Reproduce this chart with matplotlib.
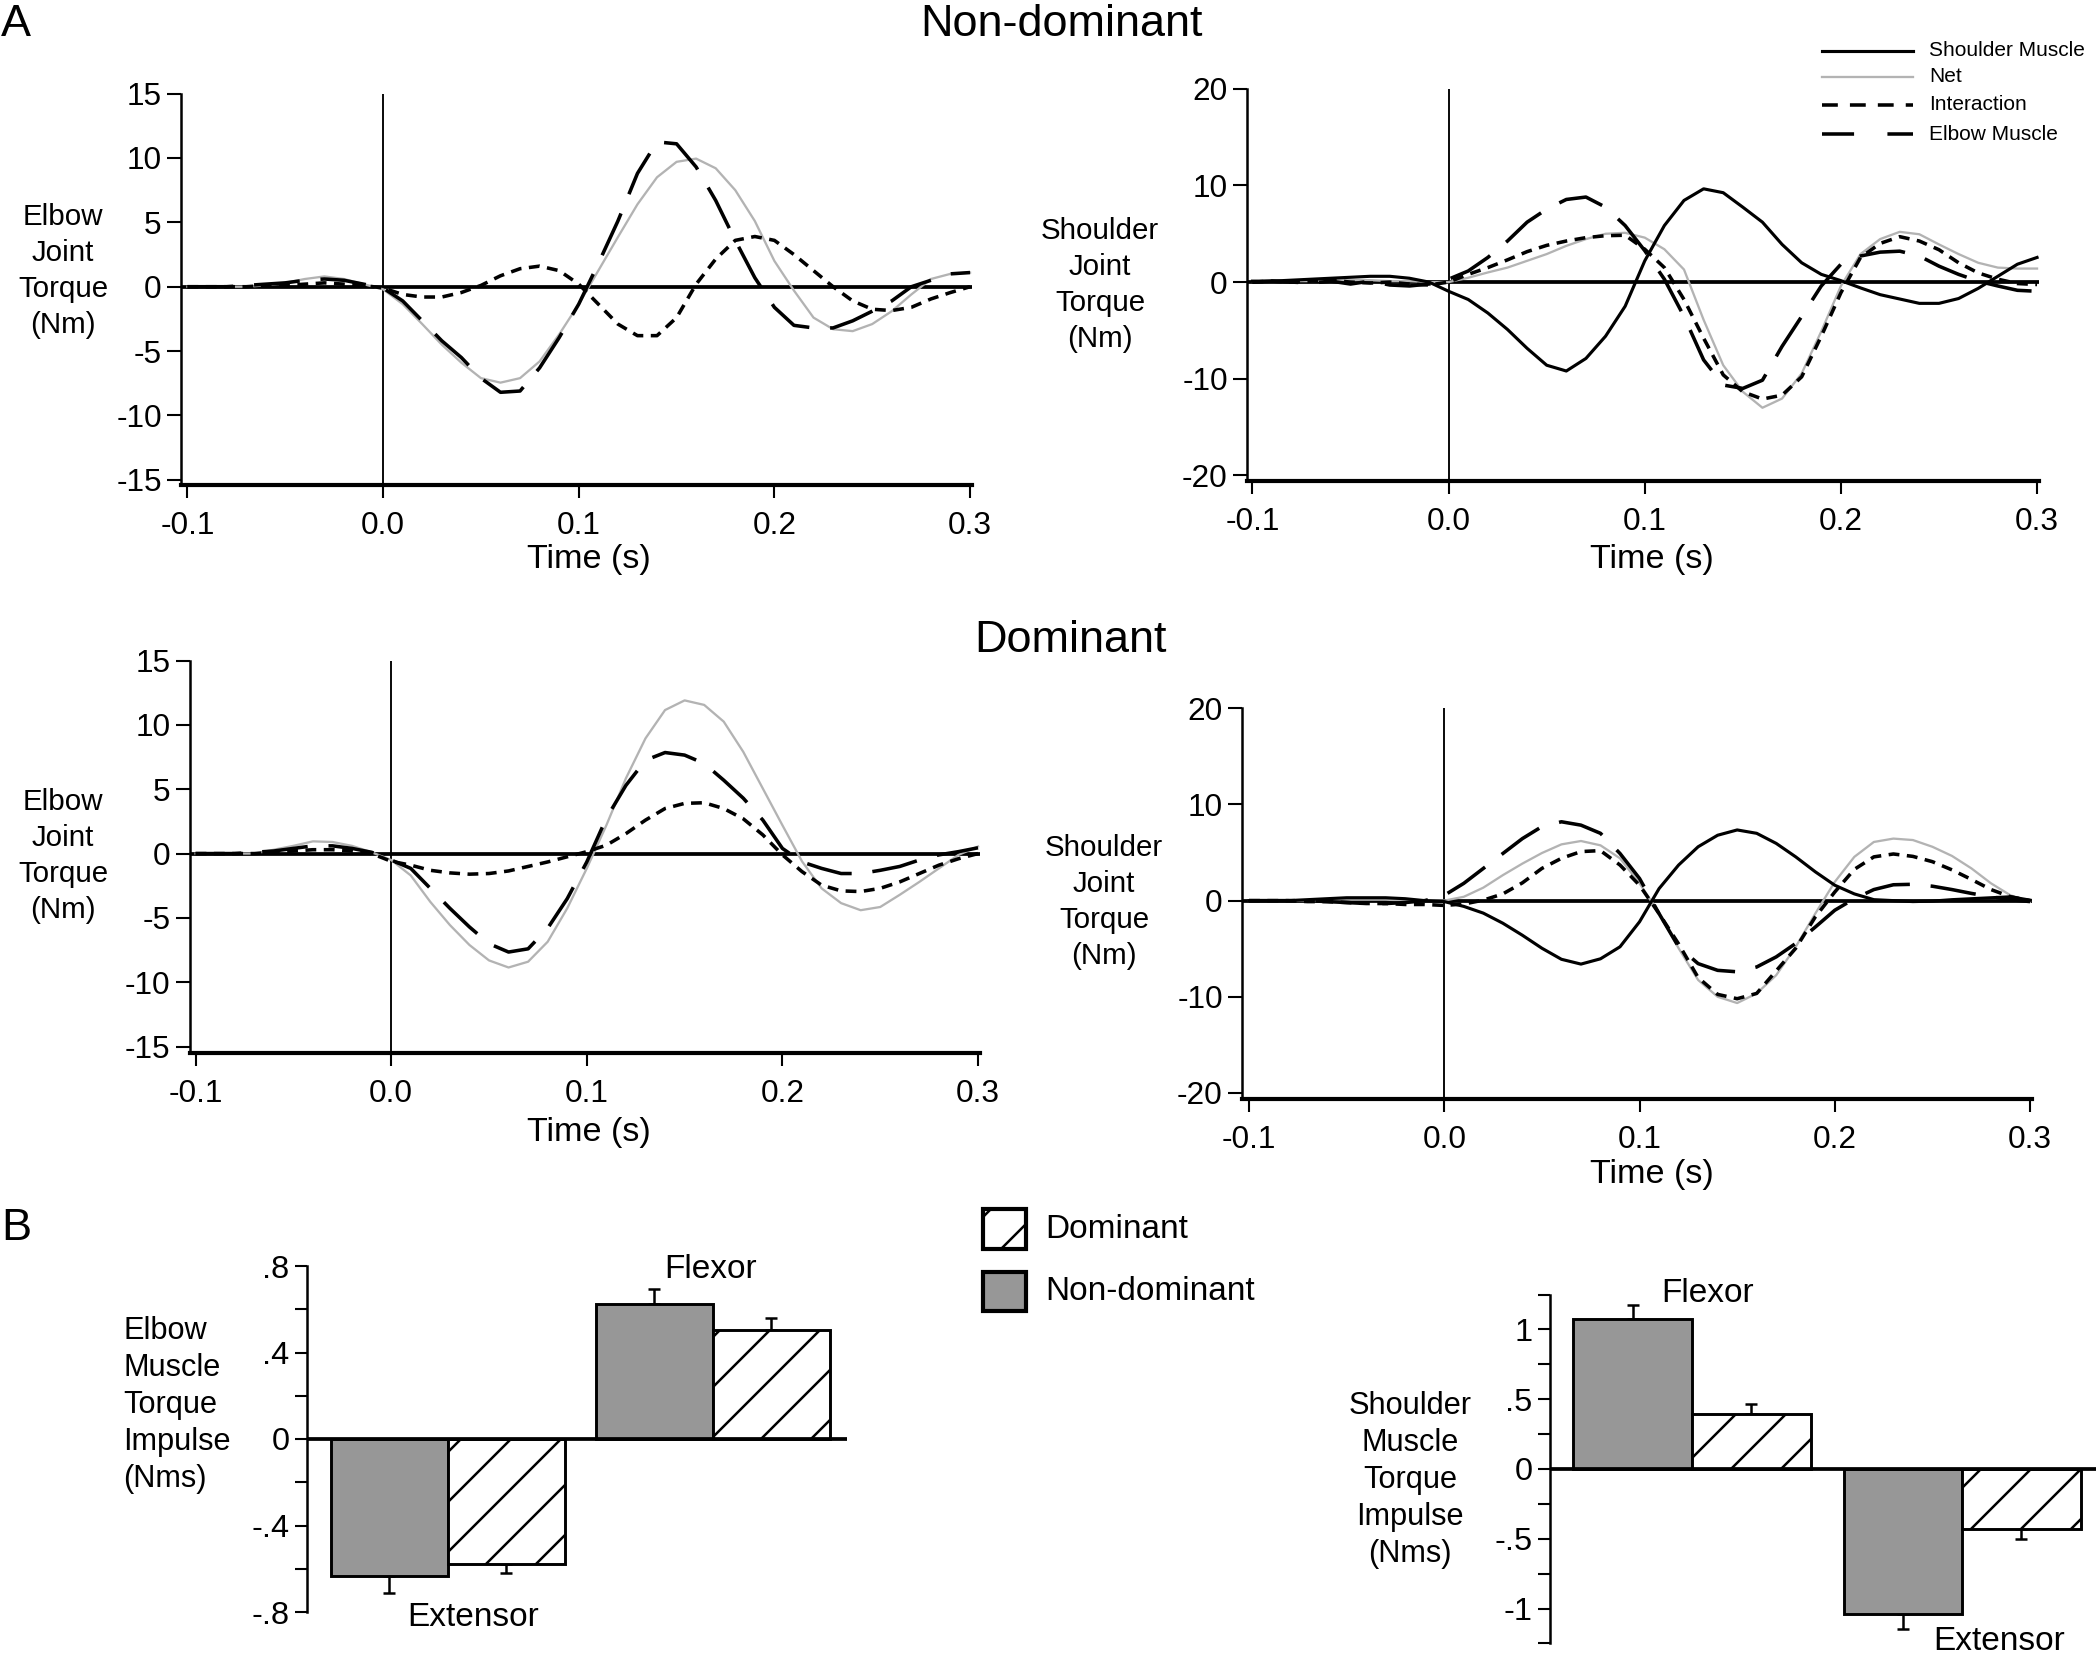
import matplotlib
matplotlib.use('Agg')
import matplotlib.pyplot as plt
import numpy as np
from matplotlib.lines import Line2D
from matplotlib.patches import Rectangle
from matplotlib.ticker import FormatStrFormatter

plt.rcParams['font.family'] = ['Liberation Sans', 'DejaVu Sans']
plt.rcParams['axes.unicode_minus'] = False
plt.rcParams['lines.scale_dashes'] = False
plt.rcParams['hatch.linewidth'] = 0.6

# ---- data: torques (Nm) sampled every 10 ms from -0.1 s to 0.3 s ----
t = np.round(np.arange(-0.1, 0.3001, 0.01), 2)

# Non-dominant, elbow joint
nd_elb_net = [0, 0, 0, 0, 0.1, 0.3, 0.6, 0.8, 0.6, 0.2, -0.2,
              -1.35, -2.9, -4.5, -5.9, -7.1, -7.45, -7.1, -5.8, -3.7, -1.35,
              1.25, 3.85, 6.4, 8.5, 9.7, 9.95, 9.2, 7.5, 5.1, 2.0,
              -0.3, -2.4, -3.3, -3.45, -2.9, -1.9, -0.6, 0.6, 1.0, 1.1]
nd_elb_inter = [0, 0, 0, 0, 0.1, 0.1, 0.2, 0.3, 0.2, 0.1, -0.1,
                -0.6, -0.8, -0.8, -0.45, 0.1, 0.85, 1.4, 1.6, 1.25, 0.2,
                -1.35, -2.9, -3.8, -3.8, -2.4, 0.2, 2.15, 3.6, 3.9, 3.6,
                2.5, 1.25, 0.0, -1.1, -1.75, -1.85, -1.6, -0.95, -0.45, 0.0]
nd_elb_musc = [0, 0, 0, 0.1, 0.2, 0.3, 0.5, 0.6, 0.5, 0.2, -0.1,
               -1.1, -2.65, -4.2, -5.5, -7.1, -8.2, -8.1, -6.3, -3.95, -1.35,
               1.8, 5.1, 8.8, 11.25, 11.1, 9.3, 6.7, 3.6, 0.7, -1.6,
               -3.0, -3.2, -3.2, -2.65, -1.9, -1.1, 0.0, 0.5, 1.0, 1.1]

# Non-dominant, shoulder joint
nd_sh_musc = [0.1, 0.1, 0.2, 0.3, 0.4, 0.5, 0.6, 0.6, 0.4, 0.0, -0.95,
              -1.8, -3.2, -4.9, -6.85, -8.6, -9.2, -7.9, -5.6, -2.5, 2.2,
              5.85, 8.45, 9.65, 9.25, 7.75, 6.2, 3.9, 2.0, 0.8, 0.15,
              -0.6, -1.3, -1.75, -2.2, -2.2, -1.7, -0.65, 0.6, 1.85, 2.55]
nd_sh_net = [0.1, 0.1, 0.1, 0.1, 0.2, 0.2, 0.2, 0.1, 0.1, 0.0, 0.0,
             0.45, 1.0, 1.5, 2.2, 2.9, 3.75, 4.45, 5.0, 5.1, 4.6,
             3.4, 1.3, -3.9, -8.6, -11.35, -13.0, -12.05, -9.45, -5.1, -0.4,
             2.9, 4.45, 5.2, 4.95, 3.9, 2.9, 2.0, 1.5, 1.4, 1.4]
nd_sh_inter = [0.0, 0.1, 0.0, 0.1, 0.2, 0.0, -0.1, 0.0, -0.2, -0.3, 0.0,
               0.8, 1.5, 2.3, 3.15, 3.8, 4.25, 4.6, 4.8, 4.85, 3.4,
               1.5, -1.8, -5.8, -9.6, -11.35, -12.1, -11.7, -9.8, -5.6, -1.1,
               2.55, 4.0, 4.7, 4.25, 3.35, 2.0, 0.95, 0.3, -0.15, -0.25]
nd_sh_elb = [0.0, 0.1, 0.0, -0.1, 0.1, -0.2, 0.1, -0.3, -0.4, -0.2, 0.3,
             1.15, 2.55, 4.25, 6.2, 7.55, 8.55, 8.8, 7.75, 5.85, 3.25,
             0.3, -3.55, -8.05, -10.65, -11.0, -10.15, -6.65, -3.55, -0.4, 1.85,
             2.7, 3.1, 3.2, 2.7, 1.65, 0.8, 0.1, -0.4, -0.85, -0.95]

# Dominant, elbow joint
d_elb_net = [0, 0, 0, 0, 0.3, 0.6, 0.95, 0.9, 0.6, 0.1, -0.5,
             -1.7, -3.75, -5.55, -7.1, -8.3, -8.85, -8.4, -6.85, -4.25, -1.15,
             2.2, 5.85, 8.95, 11.15, 11.9, 11.55, 10.25, 7.9, 5.05, 2.2,
             -0.6, -2.7, -3.85, -4.4, -4.15, -3.2, -2.2, -1.15, -0.1, 0.55]
d_elb_inter = [0, 0, 0, 0, 0.1, 0.2, 0.3, 0.3, 0.2, 0.0, -0.6,
               -0.9, -1.3, -1.5, -1.6, -1.55, -1.35, -1.0, -0.65, -0.25, 0.15,
               0.65, 1.55, 2.6, 3.5, 3.9, 3.95, 3.5, 2.7, 1.45, -0.1,
               -1.4, -2.45, -2.9, -2.95, -2.7, -2.2, -1.55, -0.9, -0.4, 0.0]
d_elb_musc = [0, 0, 0, 0.1, 0.2, 0.4, 0.6, 0.6, 0.4, 0.1, -0.5,
              -1.15, -2.7, -4.25, -5.7, -7.0, -7.65, -7.4, -5.8, -3.5, -0.65,
              2.75, 5.3, 7.25, 7.85, 7.65, 7.0, 5.7, 4.3, 2.6, 0.4,
              -0.65, -1.15, -1.55, -1.55, -1.3, -1.0, -0.5, -0.1, 0.15, 0.45]

# Dominant, shoulder joint
d_sh_musc = [0, 0, 0, 0.1, 0.2, 0.3, 0.3, 0.3, 0.2, 0.0, -0.1,
             -0.6, -1.3, -2.35, -3.6, -4.95, -6.1, -6.6, -6.05, -4.8, -2.2,
             1.25, 3.7, 5.6, 6.8, 7.35, 7.0, 5.95, 4.55, 3.0, 1.6,
             0.7, 0.1, 0.0, -0.1, -0.05, 0.1, 0.2, 0.3, 0.4, 0.05]
d_sh_net = [0, 0, 0, 0, 0.1, 0.1, 0.1, 0.1, 0.0, 0.0, 0.0,
            0.4, 1.35, 2.65, 3.85, 4.95, 5.85, 6.2, 5.75, 4.4, 1.8,
            -1.3, -4.95, -8.25, -10.0, -10.65, -9.65, -7.75, -4.8, -1.35, 1.95,
            4.55, 6.1, 6.45, 6.3, 5.6, 4.65, 3.35, 1.8, 0.55, -0.1]
d_sh_inter = [0, 0, 0, -0.1, -0.1, -0.2, -0.3, -0.3, -0.4, -0.4, -0.5,
              -0.35, 0.05, 0.7, 1.85, 3.35, 4.4, 5.1, 5.2, 3.7, 1.6,
              -1.35, -4.5, -8.0, -9.75, -10.2, -9.65, -7.3, -4.95, -1.7, 0.9,
              3.25, 4.55, 4.85, 4.6, 4.05, 3.2, 2.2, 1.15, 0.4, 0.0]
d_sh_elb = [0, 0, 0, 0, -0.1, -0.2, -0.3, -0.3, -0.2, 0.0, 0.55,
            1.8, 3.35, 4.9, 6.45, 7.7, 8.2, 7.85, 7.0, 4.9, 2.3,
            -1.35, -4.8, -6.55, -7.25, -7.4, -6.9, -5.85, -4.45, -2.75, -1.0,
            0.2, 1.15, 1.65, 1.7, 1.5, 1.15, 0.75, 0.4, 0.1, -0.1]

# ---- data: muscle torque impulse (Nms), mean and SE ----
elb_groups = ['Extensor', 'Flexor']
elb_nondom = [-0.634, 0.624]
elb_nondom_err = [0.076, 0.070]
elb_dom = [-0.578, 0.502]
elb_dom_err = [0.042, 0.058]

sh_groups = ['Flexor', 'Extensor']
sh_nondom = [1.075, -1.04]
sh_nondom_err = [0.10, 0.11]
sh_dom = [0.394, -0.427]
sh_dom_err = [0.072, 0.073]

# ---- figure (laid out in pixels of the 2100x1680 output) ----
W, H = 2100, 1680
fig = plt.figure(figsize=(7, 5.6), dpi=300)


def px_box(l, top, r, b):
    return [l / W, 1 - b / H, (r - l) / W, (b - top) / H]


def fx(x):
    return x / W


def fy(y):
    return 1 - y / H


STYLE = {
    'net': dict(color='#b3b3b3', lw=0.55),
    'inter': dict(color='black', lw=0.85, dashes=(2.6, 1.8)),
    'elbow': dict(color='black', lw=0.85, dashes=(11, 5)),
    'shoulder': dict(color='black', lw=0.75),
}


def torque_panel(rect, xlim, ylim, yticks, curves, ylabel, ylab_xy, xlab_xy):
    ax = fig.add_axes(px_box(*rect))
    ax.axhline(0, color='black', lw=0.9, zorder=1)
    ax.axvline(0, color='black', lw=0.45, zorder=1)
    for name, vals in curves:
        ax.plot(t, vals, zorder=2, **STYLE[name])
    ax.set_xlim(*xlim)
    ax.set_ylim(*ylim)
    ax.set_xticks([-0.1, 0.0, 0.1, 0.2, 0.3])
    ax.xaxis.set_major_formatter(FormatStrFormatter('%.1f'))
    ax.set_yticks(yticks)
    for s in ['top', 'right']:
        ax.spines[s].set_visible(False)
    ax.spines['left'].set_linewidth(0.6)
    ax.spines['bottom'].set_linewidth(1.0)
    ax.tick_params(axis='x', direction='out', length=3.2, width=0.5,
                   labelsize=7.6, pad=3)
    ax.tick_params(axis='y', direction='out', length=3.4, width=0.5,
                   labelsize=7.6, pad=1.2)
    fig.text(fx(ylab_xy[0]), fy(ylab_xy[1]), ylabel, ha='center', va='center',
             fontsize=7.1, linespacing=1.36)
    fig.text(fx(xlab_xy[0]), fy(xlab_xy[1]), 'Time (s)', ha='center',
             va='center', fontsize=8.2)
    return ax


elbow_lbl = 'Elbow\nJoint\nTorque\n(Nm)'
shoulder_lbl = 'Shoulder\nJoint\nTorque\n(Nm)'

torque_panel((181, 93.6, 972, 485), (-0.1033, 0.301), (-15.4, 15),
             [-15, -10, -5, 0, 5, 10, 15],
             [('net', nd_elb_net), ('inter', nd_elb_inter), ('elbow', nd_elb_musc)],
             elbow_lbl, (63, 271), (589, 560))
torque_panel((1247, 88.8, 2039, 481), (-0.1028, 0.301), (-20.58, 20),
             [-20, -10, 0, 10, 20],
             [('net', nd_sh_net), ('inter', nd_sh_inter), ('elbow', nd_sh_elb),
              ('shoulder', nd_sh_musc)],
             shoulder_lbl, (1100, 285), (1652, 560))
torque_panel((189.5, 660.5, 980, 1052.7), (-0.1031, 0.301), (-15.47, 15),
             [-15, -10, -5, 0, 5, 10, 15],
             [('net', d_elb_net), ('inter', d_elb_inter), ('elbow', d_elb_musc)],
             elbow_lbl, (63, 856), (589, 1133))
torque_panel((1242, 708.3, 2032, 1099.4), (-0.1036, 0.301), (-20.67, 20),
             [-20, -10, 0, 10, 20],
             [('net', d_sh_net), ('inter', d_sh_inter), ('elbow', d_sh_elb),
              ('shoulder', d_sh_musc)],
             shoulder_lbl, (1104, 902), (1652, 1174))

# line legend (top right)
leg_rows = [('shoulder', 'Shoulder Muscle', 51), ('net', 'Net', 77),
            ('inter', 'Interaction', 105), ('elbow', 'Elbow Muscle', 134)]
leg_dash = {'inter': (3.8, 2.9), 'elbow': (7.7, 8)}
for key, text, y in leg_rows:
    st = dict(STYLE[key])
    if key in leg_dash:
        st['dashes'] = leg_dash[key]
    fig.add_artist(Line2D([fx(1822), fx(1913)], [fy(y), fy(y)],
                          transform=fig.transFigure, **st))
    fig.text(fx(1929), fy(y), text, ha='left', va='center', fontsize=5.0)

# titles and panel letters
fig.text(fx(1061), fy(24), 'Non-dominant', ha='center', va='center', fontsize=10.8)
fig.text(fx(1071), fy(641), 'Dominant', ha='center', va='center', fontsize=10.8)
fig.text(fx(16), fy(24), 'A', ha='center', va='center', fontsize=10.8)
fig.text(fx(16), fy(1228), 'B', ha='center', va='center', fontsize=10.8)

# ---- bar panels ----
ND_COLOR = '#979797'


def impulse_panel(rect, xlim, ylim, ticks, ticklabels, w, nondom, nondom_err,
                  dom, dom_err):
    ax = fig.add_axes(px_box(*rect))
    x = np.arange(len(nondom))
    nondom = np.array(nondom)
    dom = np.array(dom)
    ax.bar(x - w / 2, nondom, w, color=ND_COLOR, edgecolor='black', lw=0.7,
           zorder=2)
    ax.bar(x + w / 2, dom, w, color='white', edgecolor='black', lw=0.7,
           hatch='//', zorder=2)
    for xs, vals, err in [(x - w / 2, nondom, nondom_err), (x + w / 2, dom, dom_err)]:
        err = np.array(err)
        lower = np.where(vals < 0, err, 0)
        upper = np.where(vals > 0, err, 0)
        ax.errorbar(xs, vals, yerr=[lower, upper], fmt='none', ecolor='black',
                    elinewidth=0.6, capsize=1.5, capthick=0.6, zorder=1)
    ax.axhline(0, color='black', lw=0.9, zorder=3)
    ax.set_xlim(*xlim)
    ax.set_ylim(*ylim)
    ax.set_xticks([])
    ax.set_yticks(ticks)
    ax.set_yticklabels(ticklabels)
    for s in ['top', 'right', 'bottom']:
        ax.spines[s].set_visible(False)
    ax.spines['left'].set_linewidth(0.6)
    ax.tick_params(axis='y', direction='out', length=3.0, width=0.5,
                   labelsize=7.8, pad=1.2)
    return ax


impulse_panel((307, 1266, 847, 1612), (-0.532, 1.506), (-0.8, 0.8),
              [-0.8, -0.6, -0.4, -0.2, 0, 0.2, 0.4, 0.6, 0.8],
              ['-.8', '', '-.4', '', '0', '', '.4', '', '.8'], 0.4415,
              elb_nondom, elb_nondom_err, elb_dom, elb_dom_err)
impulse_panel((1550, 1294.6, 2096, 1643.4), (-0.526, 1.496), (-1.25, 1.25),
              [-1.25, -1, -0.75, -0.5, -0.25, 0, 0.25, 0.5, 0.75, 1, 1.25],
              ['', '-1', '', '-.5', '', '0', '', '.5', '', '1', ''], 0.439,
              sh_nondom, sh_nondom_err, sh_dom, sh_dom_err)

# group names
fig.text(fx(711), fy(1269), elb_groups[1], ha='center', va='center', fontsize=8.0)
fig.text(fx(473), fy(1617), elb_groups[0], ha='center', va='center', fontsize=8.0)
fig.text(fx(1708), fy(1293), sh_groups[0], ha='center', va='center', fontsize=8.0)
fig.text(fx(1999), fy(1642), sh_groups[1], ha='center', va='center', fontsize=8.0)

# y labels of bar panels
fig.text(fx(123), fy(1405), 'Elbow\nMuscle\nTorque\nImpulse\n(Nms)', ha='left',
         va='center', fontsize=7.4, linespacing=1.3)
fig.text(fx(1410), fy(1480), 'Shoulder\nMuscle\nTorque\nImpulse\n(Nms)',
         ha='center', va='center', fontsize=7.4, linespacing=1.3)

# bar legend
fig.add_artist(Rectangle((fx(983), fy(1249)), 43 / W, 40 / H,
                         transform=fig.transFigure, facecolor='white',
                         edgecolor='black', lw=1.0, hatch='//'))
fig.add_artist(Rectangle((fx(983), fy(1311)), 43 / W, 39 / H,
                         transform=fig.transFigure, facecolor=ND_COLOR,
                         edgecolor='black', lw=1.0))
fig.text(fx(1045), fy(1229), 'Dominant', ha='left', va='center', fontsize=8.0)
fig.text(fx(1045), fy(1291), 'Non-dominant', ha='left', va='center', fontsize=8.0)

fig.savefig('out.png', dpi=300)
